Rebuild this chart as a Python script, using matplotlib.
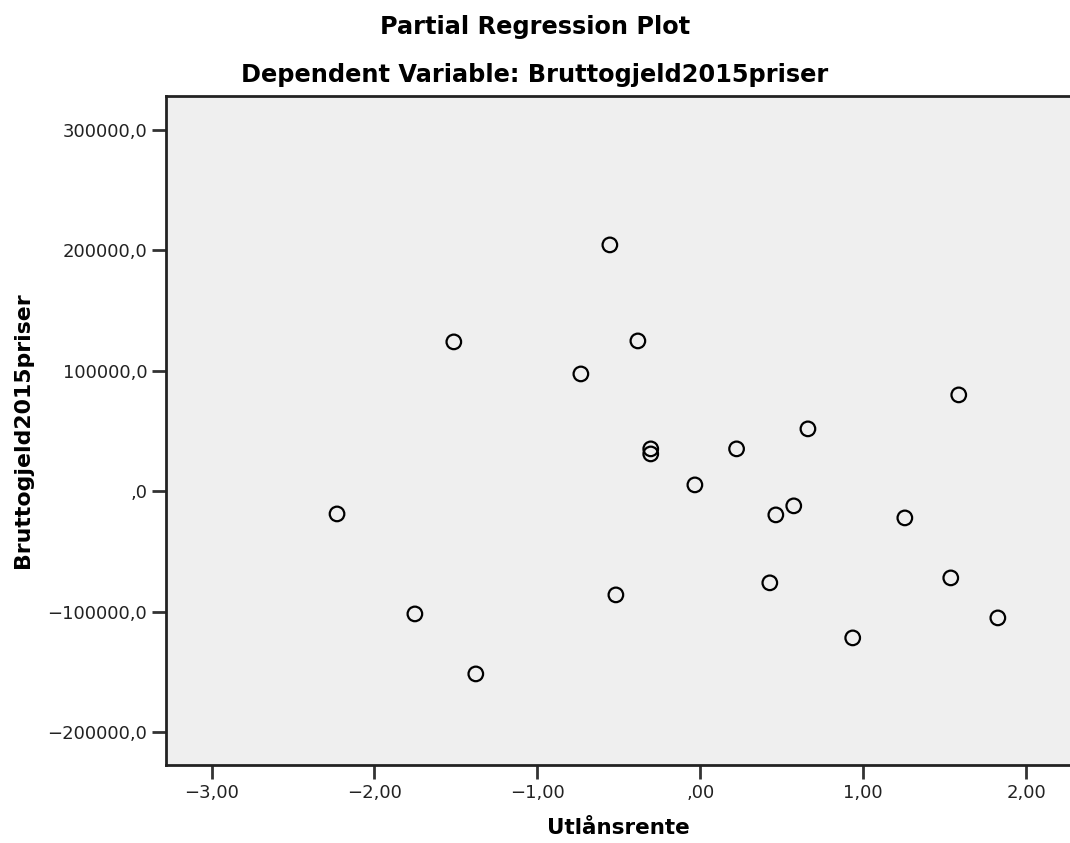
import matplotlib
matplotlib.use("Agg")
import matplotlib.pyplot as plt
from matplotlib.ticker import FuncFormatter

# partial residuals: Utlånsrente vs Bruttogjeld2015priser
utlansrente = [-0.555, -1.513, -0.383, -0.733, 1.587, 0.661, -0.304, -0.304,
               0.223, -0.033, -2.230, 0.464, 0.574, 1.256, 0.427, 1.538,
               -0.518, -1.752, 1.827, 0.936, -1.378]
bruttogjeld = [204600, 124100, 124900, 97500, 80100, 51900, 35300, 31100,
               35300, 5400, -18700, -19500, -12000, -22000, -75900, -71800,
               -85900, -101700, -105000, -121600, -151500]

x_ticks = [-3, -2, -1, 0, 1, 2]
y_ticks = [-200000, -100000, 0, 100000, 200000, 300000]


def comma_fmt(decimals):
    def f(v, pos):
        s = "%.*f" % (decimals, v)
        s = s.replace(".", ",").replace("-", "\u2212")
        if s.startswith("0,"):
            s = s[1:]
        return s
    return f


plt.rcParams['font.family'] = ['DejaVu Sans']

fig = plt.figure(figsize=(10.7, 8.43), dpi=100)
ax = fig.add_axes([166 / 1070, 1 - 765 / 843, 1 - 166 / 1070, (765 - 96) / 843])
ax.set_facecolor("#efefef")

ax.scatter(utlansrente, bruttogjeld, s=110, facecolors="none",
           edgecolors="black", linewidths=1.6, zorder=3)

ax.set_xlim(-3.28, 2.27)
ax.set_ylim(-227100, 328200)
ax.set_xticks(x_ticks)
ax.set_yticks(y_ticks)
ax.xaxis.set_major_formatter(FuncFormatter(comma_fmt(2)))
ax.yaxis.set_major_formatter(FuncFormatter(comma_fmt(1)))
ax.tick_params(direction="out", length=10, width=2, labelsize=13,
               color="#333333", labelcolor="#222222")

for side in ["left", "bottom", "top"]:
    ax.spines[side].set_linewidth(2)
    ax.spines[side].set_color("#222222")
ax.spines["right"].set_visible(False)

ax.set_xlabel("Utlånsrente", fontsize=15.5, fontweight="bold", labelpad=12)
ax.set_ylabel("Bruttogjeld2015priser", fontsize=15.8, fontweight="bold", labelpad=10)

fig.text(0.5, 1 - 27 / 843, "Partial Regression Plot", ha="center", va="center",
         fontsize=17.3, fontweight="bold")
fig.text(0.5, 1 - 75 / 843, "Dependent Variable: Bruttogjeld2015priser",
         ha="center", va="center", fontsize=17.3, fontweight="bold")

fig.savefig("out.png", dpi=100)
